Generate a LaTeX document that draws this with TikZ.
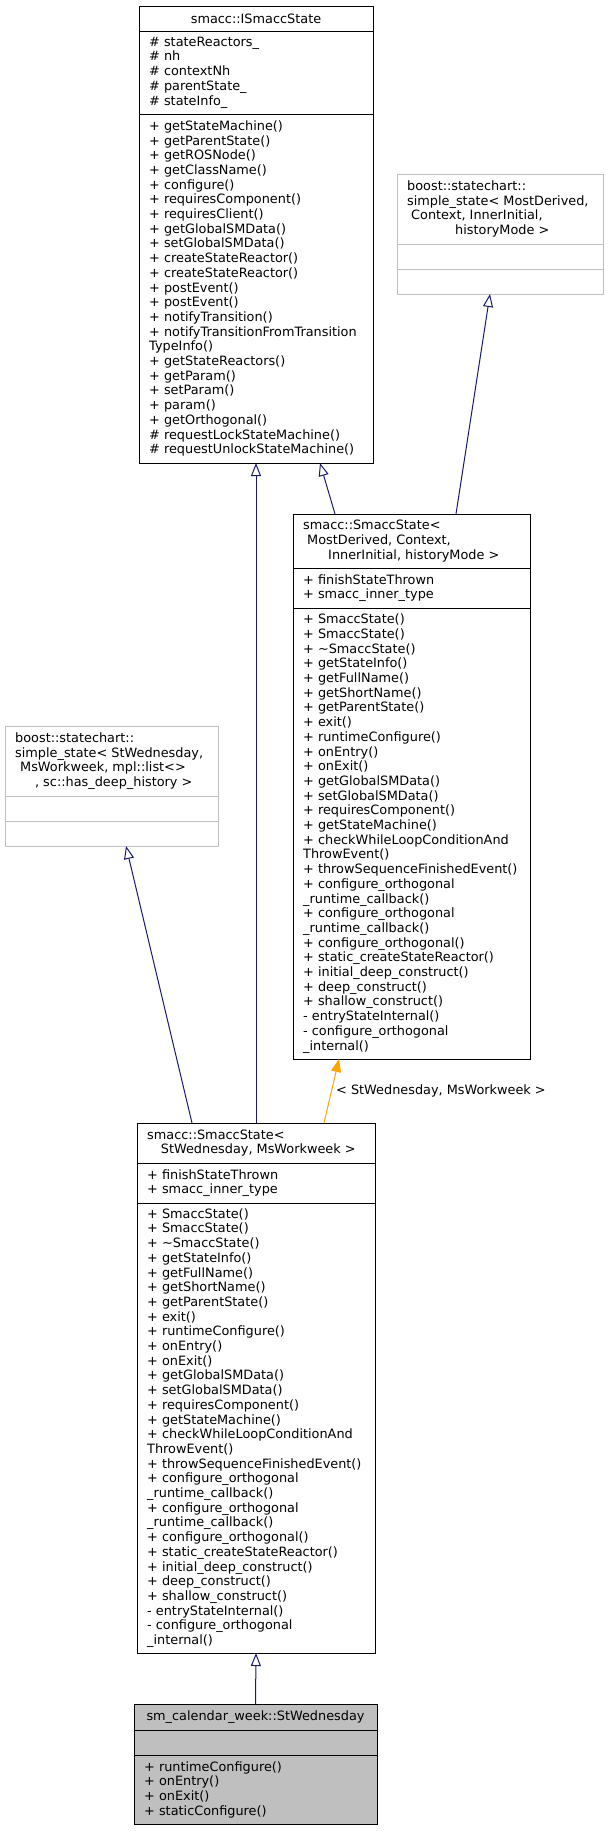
\documentclass[tikz,border=0pt]{standalone}
\usepackage{fontspec}
\setmainfont{DejaVu Sans}
\usetikzlibrary{arrows.meta}
\definecolor{navy}{HTML}{191970}
\definecolor{dxorange}{HTML}{FFA500}
\definecolor{dxgrey}{HTML}{BFBFBF}
\newcommand\smaccmethods{%
+ SmaccState()\\
+ SmaccState()\\
+ \textasciitilde SmaccState()\\
+ getStateInfo()\\
+ getFullName()\\
+ getShortName()\\
+ getParentState()\\
+ exit()\\
+ runtimeConfigure()\\
+ onEntry()\\
+ onExit()\\
+ getGlobalSMData()\\
+ setGlobalSMData()\\
+ requiresComponent()\\
+ getStateMachine()\\
+ checkWhileLoopConditionAnd\\
ThrowEvent()\\
+ throwSequenceFinishedEvent()\\
+ configure\_orthogonal\\
\_runtime\_callback()\\
+ configure\_orthogonal\\
\_runtime\_callback()\\
+ configure\_orthogonal()\\
+ static\_createStateReactor()\\
+ initial\_deep\_construct()\\
+ deep\_construct()\\
+ shallow\_construct()\\
- entryStateInternal()\\
- configure\_orthogonal\\
\_internal()}
\begin{document}
\begin{tikzpicture}[x=1pt,y=-1pt,
  sec/.style={draw=black, line width=1pt, rectangle, anchor=north west, inner sep=0pt, outer sep=0pt},
  gsec/.style={sec, draw=dxgrey},
  hsec/.style={sec, fill=dxgrey},
  txt/.style={anchor=west, inner sep=0pt, align=left, font=\fontsize{12.85}{14.7}\selectfont},
  ctxt/.style={anchor=center, inner sep=0pt, font=\fontsize{12.85}{14.7}\selectfont},
  lbl/.style={anchor=west, inner sep=0pt, font=\fontsize{12.85}{14.7}\selectfont},
  inh/.style={draw=navy, line width=1pt, -{Triangle[open, length=13pt, width=10pt, fill=white]}},
  tpl/.style={draw=dxorange, line width=1pt, -{Triangle[length=13pt, width=10pt, fill=dxorange]}}
]
\useasboundingbox (0,0) rectangle (609,1831);

% smacc::ISmaccState
\node[sec, minimum width=234pt, minimum height=25pt] (ismH) at (139,6) {};
\node[sec, minimum width=234pt, minimum height=83pt] (ismA) at (139,31) {};
\node[sec, minimum width=234pt, minimum height=349pt] (ismM) at (139,114) {};
\node[ctxt] (ismHt) at (ismH.center) {smacc::ISmaccState};
\node[txt] (ismAt) at ([xshift=10pt]ismA.west) {\# stateReactors\_\\\# nh\\\# contextNh\\\# parentState\_\\\# stateInfo\_};
\node[txt] (ismMt) at ([xshift=10pt]ismM.west) {+ getStateMachine()\\
+ getParentState()\\
+ getROSNode()\\
+ getClassName()\\
+ configure()\\
+ requiresComponent()\\
+ requiresClient()\\
+ getGlobalSMData()\\
+ setGlobalSMData()\\
+ createStateReactor()\\
+ createStateReactor()\\
+ postEvent()\\
+ postEvent()\\
+ notifyTransition()\\
+ notifyTransitionFromTransition\\
TypeInfo()\\
+ getStateReactors()\\
+ getParam()\\
+ setParam()\\
+ param()\\
+ getOrthogonal()\\
\# requestLockStateMachine()\\
\# requestUnlockStateMachine()};

% right boost simple_state
\node[gsec, minimum width=206pt, minimum height=70pt] (rbH) at (397,174) {};
\node[gsec, minimum width=206pt, minimum height=25pt] (rbA) at (397,244) {};
\node[gsec, minimum width=206pt, minimum height=25pt] (rbM) at (397,269) {};
\node[txt] (rbHt) at ([xshift=10pt]rbH.west) {boost::statechart::\\simple\_state< MostDerived,\\\hspace*{4pt}Context, InnerInitial,\\\makebox[186pt]{\ historyMode >}};

% template SmaccState
\node[sec, minimum width=237pt, minimum height=54pt] (tplH) at (293,514) {};
\node[sec, minimum width=237pt, minimum height=40pt] (tplA) at (293,568) {};
\node[sec, minimum width=237pt, minimum height=451pt] (tplM) at (293,608) {};
\node[txt] (tplHt) at ([xshift=10pt]tplH.west) {smacc::SmaccState<\\\hspace*{4pt}MostDerived, Context,\\\makebox[217pt]{\ InnerInitial, historyMode >}};
\node[txt] (tplAt) at ([xshift=10pt]tplA.west) {+ finishStateThrown\\+ smacc\_inner\_type};
\node[txt] (tplMt) at ([xshift=10pt]tplM.west) {\smaccmethods};

% left boost simple_state
\node[gsec, minimum width=213pt, minimum height=70pt] (lbH) at (5,726) {};
\node[gsec, minimum width=213pt, minimum height=25pt] (lbA) at (5,796) {};
\node[gsec, minimum width=213pt, minimum height=25pt] (lbM) at (5,821) {};
\node[txt] (lbHt) at ([xshift=10pt]lbH.west) {boost::statechart::\\simple\_state< StWednesday,\\\hspace*{5pt}MsWorkweek, mpl::list<>\\\makebox[193pt]{\ , sc::has\_deep\_history >}};

% SmaccState< StWednesday, MsWorkweek >
\node[sec, minimum width=238pt, minimum height=40pt] (b5H) at (137,1123) {};
\node[sec, minimum width=238pt, minimum height=40pt] (b5A) at (137,1163) {};
\node[sec, minimum width=238pt, minimum height=450pt] (b5M) at (137,1203) {};
\node[txt] (b5Ht) at ([xshift=10pt]b5H.west) {smacc::SmaccState<\\\makebox[218pt]{\ StWednesday, MsWorkweek >}};
\node[txt] (b5At) at ([xshift=10pt]b5A.west) {+ finishStateThrown\\+ smacc\_inner\_type};
\node[txt] (b5Mt) at ([xshift=10pt]b5M.west) {\smaccmethods};

% sm_calendar_week::StWednesday
\node[hsec, minimum width=243pt, minimum height=26pt] (swH) at (134,1704) {};
\node[hsec, minimum width=243pt, minimum height=25pt] (swA) at (134,1730) {};
\node[hsec, minimum width=243pt, minimum height=69pt] (swM) at (134,1755) {};
\node[ctxt] (swHt) at (swH.center) {sm\_calendar\_week::StWednesday};
\node[txt] (swMt) at ([xshift=10pt]swM.west) {+ runtimeConfigure()\\+ onEntry()\\+ onExit()\\+ staticConfigure()};

% connectors
\draw[inh] (b5H.north) -- (ismM.south);
\draw[inh] ([xshift=-76.5pt]tplH.north) -- ([xshift=64pt]ismM.south);
\draw[inh] ([xshift=44.5pt]tplH.north) -- ([xshift=-10pt]rbM.south);
\draw[inh] ([xshift=-64pt]b5H.north) -- ([xshift=14.5pt]lbM.south);
\draw[tpl] ([xshift=68pt]b5H.north) -- ([xshift=-72.5pt]tplM.south);
\draw[inh] (swH.north) -- (b5M.south);
\node[lbl] (tlab) at (336,1091) {< StWednesday, MsWorkweek >};
\end{tikzpicture}
\end{document}
